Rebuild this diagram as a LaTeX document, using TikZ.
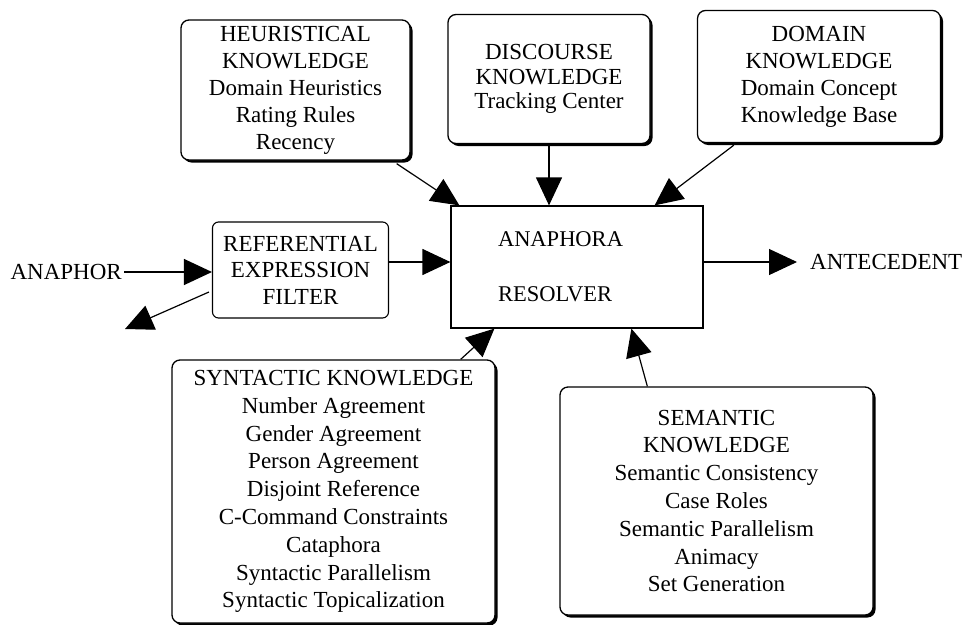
\documentclass[tikz,border=0pt]{standalone}
\usepackage{fontspec}
\setmainfont{Liberation Serif}
\usetikzlibrary{arrows.meta,shadows,calc}
\begin{document}
\begin{tikzpicture}[x=1pt,y=-1pt,
  kbox/.style={draw, line width=1.3pt, rounded corners=8pt, fill=white, align=center, inner sep=0pt,
    font=\fontsize{23}{24.5}\selectfont,
    drop shadow={fill=black, opacity=1, shadow xshift=2.5pt, shadow yshift=-2.5pt}},
  widebox/.style={kbox, font=\fontsize{23}{27}\selectfont},
  bigbox/.style={kbox, font=\fontsize{23}{27.8}\selectfont},
  fbox/.style={draw, line width=1.1pt, rounded corners=6pt, fill=white, align=center, inner sep=0pt,
    font=\fontsize{23}{26.5}\selectfont},
  rbox/.style={draw, line width=1.2pt, fill=white, align=left, inner xsep=47pt, inner ysep=0pt,
    text width=158pt, font=\fontsize{22.5}{25}\selectfont},
  lbl/.style={font=\fontsize{23}{25}\selectfont, inner sep=2pt},
  arr/.style={-{Triangle[length=28pt,width=26pt]}, line width=1.2pt}
]
\useasboundingbox (0,0) rectangle (973,624);
\coordinate (yline) at (0,262);

\node[widebox, minimum width=229pt, minimum height=140pt] (heur) at (295.5,90)
  {HEURISTICAL\\KNOWLEDGE\\Domain Heuristics\\Rating Rules\\Recency};
\node[kbox, minimum width=202pt, minimum height=129pt] (disc) at (549,79)
  {DISCOURSE\\KNOWLEDGE\\Tracking Center};
\node[widebox, minimum width=243pt, minimum height=132pt] (dom) at (819,76.5)
  {DOMAIN\\KNOWLEDGE\\Domain Concept\\Knowledge Base};
\node[fbox, minimum width=176pt, minimum height=96pt] (filter) at (300.5,270)
  {REFERENTIAL\\EXPRESSION\\FILTER};
\node[rbox, minimum height=122pt] (resolver) at (577,267)
  {ANAPHORA\\[30pt]RESOLVER};
\node[bigbox, minimum width=323pt, minimum height=263pt] (syn) at (333.5,491.5)
  {SYNTACTIC KNOWLEDGE\\Number Agreement\\Gender Agreement\\Person Agreement\\Disjoint Reference\\C-Command Constraints\\Cataphora\\Syntactic Parallelism\\Syntactic Topicalization};
\node[bigbox, minimum width=313pt, minimum height=228pt] (sem) at (716.5,501)
  {SEMANTIC\\KNOWLEDGE\\Semantic Consistency\\Case Roles\\Semantic Parallelism\\Animacy\\Set Generation};

\node[lbl, anchor=east] (anaphor) at (124,272) {ANAPHOR};
\node[lbl, anchor=west, inner xsep=13pt] (antecedent) at (797,262) {ANTECEDENT};
\coordinate (lost) at (125,329);

\draw[arr] (anaphor.east) -- (anaphor.east -| filter.west);
\draw[arr] ($(filter.west)+(-3,22)$) -- (lost);
\draw[arr] (filter.east |- yline) -- (resolver.west |- yline);
\draw[arr] (resolver.east |- yline) -- (antecedent.west |- yline);
\draw[arr] ($(heur.south east)+(-14,3)$) -- ($(resolver.north west)+(9,0)$);
\draw[arr] (disc.south) -- (disc.south |- resolver.north);
\draw[arr] ($(dom.south west)+(37,2)$) -- ($(resolver.north east)+(-49,0)$);
\draw[arr] ($(syn.north east)+(-35,0)$) -- ($(resolver.south west)+(44,0)$);
\draw[arr] ($(sem.north west)+(88,0)$) -- ($(resolver.south west)+(181,0)$);
\end{tikzpicture}
\end{document}
